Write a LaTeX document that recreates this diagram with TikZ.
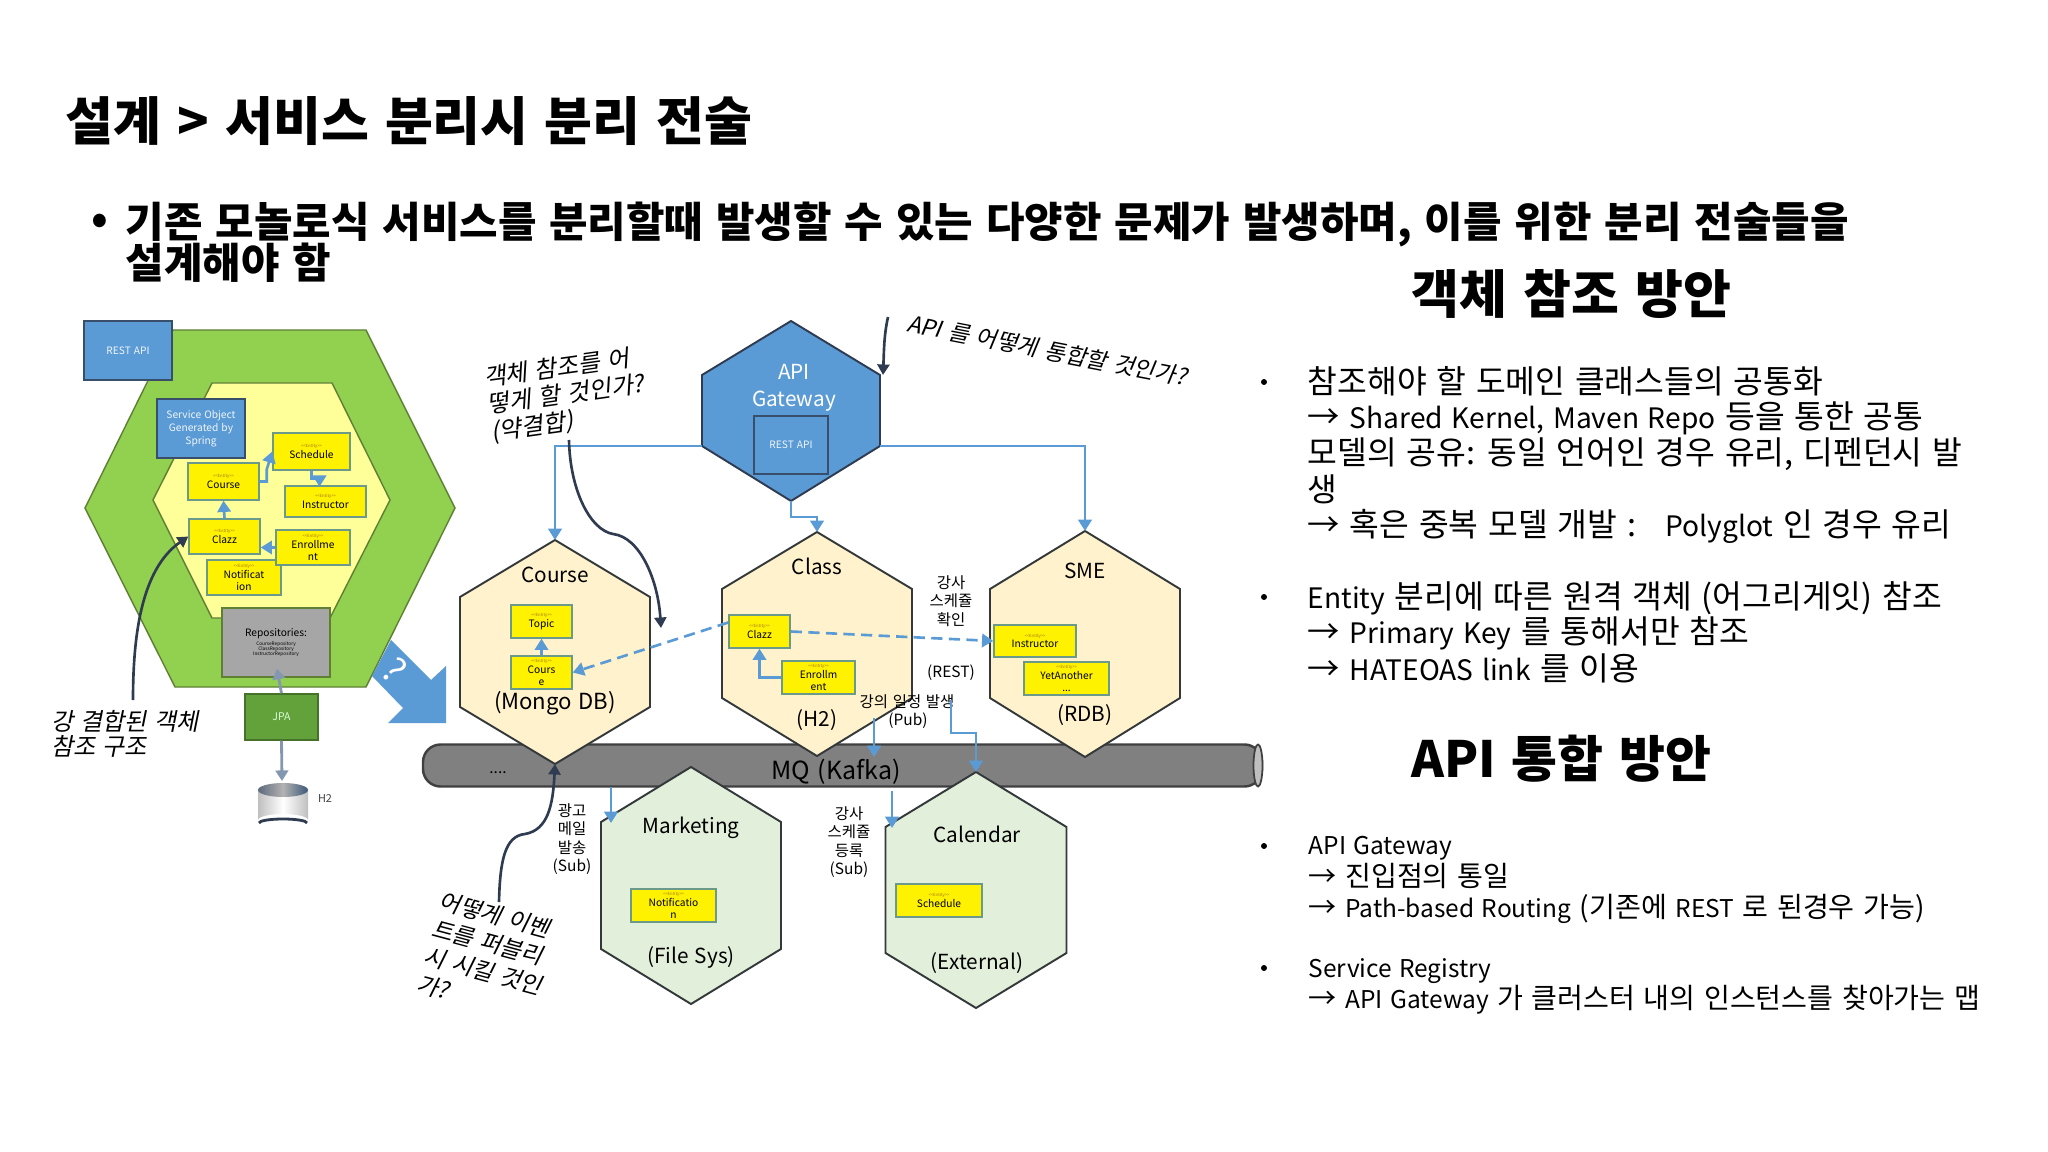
\documentclass[tikz,border=0pt]{standalone}
\usepackage{fontspec}
\setmainfont[WordSpace=1.35]{Noto Sans CJK KR}
\newfontfamily\slantfont[FakeSlant=0.2,WordSpace=1.35]{Noto Sans CJK KR}
\newfontfamily\latinpart[Scale=0.87,WordSpace=1.35]{Noto Sans CJK KR}
\usetikzlibrary{arrows.meta,calc}
\definecolor{flowblue}{HTML}{5B9BD5}
\definecolor{noteink}{HTML}{2F3B50}
\definecolor{hexline}{HTML}{33383A}
\definecolor{entline}{HTML}{6C9A8A}
\definecolor{enttag}{HTML}{A87A00}
\definecolor{jpagreen}{HTML}{63A23A}
\definecolor{slate}{HTML}{8497B0}
\definecolor{beige}{HTML}{FFF2CC}
\definecolor{sage}{HTML}{E2EFDA}
\definecolor{monogreen}{HTML}{92D050}
\definecolor{paleyellow}{HTML}{FFFF99}
\definecolor{monoline}{HTML}{5F7F35}

\begin{document}
\lineskiplimit=-5pt
\begin{tikzpicture}[
  x=0.01cm,y=-0.01cm,
  svchex/.style={fill=beige,draw=hexline,line width=0.55pt},
  subhex/.style={fill=sage,draw=hexline,line width=0.55pt},
  gatehex/.style={fill=flowblue,draw=noteink,line width=0.55pt},
  entity/.style={fill=yellow,draw=entline,line width=0.4pt,inner sep=0pt,align=center,
                 font=\fontsize{2.9}{3.6}\selectfont},
  bluebox/.style={fill=flowblue,draw=noteink!80!flowblue,line width=0.4pt,inner sep=0pt,align=center,
                  text=white!90!flowblue,font=\fontsize{2.9}{3.7}\selectfont},
  flow/.style={draw=flowblue,line width=0.75pt,-{Triangle[length=3.2pt,width=3.8pt]}},
  dashflow/.style={flow,dash pattern=on 3.2pt off 1.8pt},
  note/.style={draw=noteink,line width=0.75pt,-{Triangle[length=3pt,width=3.4pt]}},
  notelab/.style={font=\slantfont\fontsize{6.8}{7.7}\selectfont,align=left},
  svclab/.style={font=\fontsize{5.9}{7.6}\selectfont,inner sep=0pt},
  small/.style={font=\fontsize{4.4}{5.2}\selectfont,inner sep=0pt,align=center},
  head/.style={font=\bfseries\fontsize{14.8}{17}\selectfont,anchor=west,inner sep=0pt},
  intro/.style={font=\bfseries\fontsize{11.9}{14}\selectfont,anchor=west,inner sep=0pt},
  line/.style={anchor=west,inner sep=0pt}
]

\useasboundingbox (0,0) rectangle (2048,1152);
\fill[white] (0,0) rectangle (2048,1152);

% ---- titles ----
\node[head] (title) at (65,121) {설계 > 서비스 분리시 분리 전술};
\node[intro] (bul) at (91,224) {•};
\node[intro] (intro1) at (125,224)
  {기존 모놀로식 서비스를 분리할때 발생할 수 있는 다양한 문제가 발생하며, 이를 위한 분리 전술들을};
\node[intro] (intro2) at (125,263) {설계해야 함};
\node[head] (refHead) at (1411,294) {객체 참조 방안};
\node[head,font=\bfseries\fontsize{14.2}{17}\selectfont] (apiHead) at (1411,759) {API 통합 방안};

% ---- right column ----
\foreach \ty/\ttext in {
  381/{참조해야 할 도메인 클래스들의 공통화},
  418/{→ {\latinpart Shared Kernel, Maven Repo} 등을 통한 공통},
  454/{모델의 공유: 동일 언어인 경우 유리, 디펜던시 발},
  489/{생},
  526/{→ 혹은 중복 모델 개발 :\ \ \ {\latinpart Polyglot} 인 경우 유리},
  598/{{\latinpart Entity} 분리에 따른 원격 객체 (어그리게잇) 참조},
  633/{→ {\latinpart Primary Key} 를 통해서만 참조},
  668/{→ {\latinpart HATEOAS link} 를 이용}}
  \node[line,font=\fontsize{9.2}{11}\selectfont] at (1307,\ty) {\ttext};
\foreach \ty/\ttext in {
  848/{\latinpart API Gateway},
  876/{→ 진입점의 통일},
  909/{→ {\latinpart Path-based Routing} (기존에 {\latinpart REST} 로 된경우 가능)},
  971/{\latinpart Service Registry},
  1000/{→ {\latinpart API Gateway} 가 클러스터 내의 인스턴스를 찾아가는 맵}}
  \node[line,font=\fontsize{8}{10}\selectfont] at (1308,\ty) {\ttext};
\foreach \ty in {382,597,846,968}
  \fill[black] (1264,\ty) circle (3);

% ---- left monolith ----
\draw[fill=monogreen,draw=monoline,line width=0.4pt]
  (173,330) -- (366,330) -- (455,508) -- (366,687) -- (175,687) -- (85,508) -- cycle;
\draw[fill=paleyellow,draw=monoline,line width=0.4pt]
  (212,383) -- (332,383) -- (390,500) -- (330,618) -- (212,618) -- (153,500) -- cycle;

\node[bluebox,minimum width=0.88cm,minimum height=0.59cm] (restLeft) at (128,350.5) {REST API};
\node[bluebox,minimum width=0.88cm,minimum height=0.59cm] (svcObject) at (201,428.5)
  {Service Object\\Generated by\\Spring};

% ---- entity boxes, all services ----
\foreach \ename/\ex/\ey/\ew/\eh/\etext in {
  entSchedule/311.5/451.5/0.77/0.37/{Schedule},
  entCourse/223.5/481.5/0.71/0.37/{Course},
  entInstructor/325.5/501.5/0.81/0.31/{Instructor},
  entClazz/224.5/536.5/0.71/0.35/{Clazz},
  entNotif/244/577.5/0.74/0.35/{Notificat\\ion},
  entEnroll/313/547.5/0.74/0.35/{Enrollme\\nt}}
  \node[entity,minimum width=\ew cm,minimum height=\eh cm] (\ename) at (\ex,\ey)
    {{\fontsize{1.2}{2}\selectfont\textcolor{enttag}{<{}<Entity>{}>}}\\[-0.6pt]\etext};

\node[fill=black!35,draw=monoline,line width=0.4pt,inner sep=0pt,minimum width=1.08cm,
  minimum height=0.69cm,align=center,font=\fontsize{2.9}{1.5}\selectfont] (repos) at (276,642.5)
  {Repositories:\\[1pt]\fontsize{1.35}{1.45}\selectfont CourseRepository\\
   \fontsize{1.35}{1.45}\selectfont ClassRepository\\
   \fontsize{1.35}{1.45}\selectfont InstructorRepository};
\node[fill=jpagreen,draw=jpagreen!70!black,line width=0.4pt,inner sep=0pt,minimum width=0.73cm,
  minimum height=0.46cm,text=green!15!white,font=\fontsize{3}{4}\selectfont] (jpa) at (281.5,717) {JPA};

% db cylinder
\shade[left color=black!25,right color=black!25,middle color=white]
  (258,790) -- (258,820) arc[start angle=180,end angle=360,x radius=25,y radius=6]
  -- (308,790) -- cycle;
\shade[left color=slate!70!black,right color=noteink!70!flowblue,middle color=black!30]
  (283,790) ellipse[x radius=25,y radius=7];
\draw[noteink,line width=0.8pt] (259,823) arc[start angle=180,end angle=360,x radius=24,y radius=4];
\coordinate (dbTop) at (282,781);
\node[font=\fontsize{3.1}{4}\selectfont,text=black!75,inner sep=0pt] (h2Lab) at (325,799) {H2};

\draw[draw=slate,line width=0.8pt,-{Triangle[length=3pt,width=3.6pt]}] (jpa.north) -- ($(repos.south)+(1,-9)$);
\draw[draw=slate,line width=0.8pt,-{Triangle[length=3pt,width=3.6pt]}] (jpa.south) -- (dbTop);

\draw[flow] (entCourse.east) -- ++(7,0) -- ++(0,-12) -- (entSchedule.west);
\draw[flow] (entSchedule.south) -- ++(0,8) -- ++(8,0) -- ++(0,8);
\draw[flow] (entClazz.north) -- (entCourse.south);
\draw[flow] (entEnroll.west) -- (entClazz.east |- entEnroll.west);

% big arrow
\fill[flowblue] (391,640) -- (431,680) -- (446,666) -- (446,723) -- (388,723) -- (403,708) -- (372,676) -- cycle;
\node[text=white,rotate=-45,font=\fontsize{10}{11}\selectfont,inner sep=0pt] (askMark) at (395,670) {?};

% ---- message queue ----
\draw[fill=black!50,draw=black!75,line width=0.7pt,rounded corners=5pt]
  (423,744.5) rectangle (1262,786.5);
\draw[fill=black!25,draw=black!75,line width=0.5pt] (1258,765.5) ellipse[x radius=4.5,y radius=21];
\node[svclab,font=\fontsize{7.1}{8}\selectfont] (mqLab) at (836,772) {MQ (Kafka)};
\node[small] (dots) at (498,773) {....};

% ---- service hexagons ----
\foreach \hname/\hstyle/\cx/\xr/\yt/\yu/\yl/\yb in {
  hexGate/gatehex/791/89/321/375/446/501,
  hexCourse/svchex/555/95/540/597/707/764,
  hexClass/svchex/817/95/532/589/698/756,
  hexSme/svchex/1085/95/531/589/698/757,
  hexMarket/subhex/691/90/767/822/949/1004,
  hexCal/subhex/976/90.5/772/827/953/1008}
{
  \coordinate (\hname-t) at (\cx,\yt);
  \coordinate (\hname-b) at (\cx,\yb);
  \coordinate (\hname-l) at (\cx-\xr,\yl);
  \coordinate (\hname-r) at (\cx+\xr,\yl);
  \draw[\hstyle] (\hname-t) -- (\cx+\xr,\yu) -- (\hname-r) -- (\hname-b) -- (\hname-l) -- (\cx-\xr,\yu) -- cycle;
}

\node[bluebox,minimum width=0.74cm,minimum height=0.58cm] (restGate) at (791,445) {REST API};
\node[svclab,text=white,align=center] (gateLab) at (794,388) {API\\Gateway};

\foreach \lname/\lx/\ly/\ltext in {
  labCourse/555/575/Course, labClass/817/566/Class, labH/817/720/(H2),
  labSme/1085/571/SME, labRdb/1085/715/(RDB),
  labMarket/691/828/Marketing, labFile/691/957/(File Sys),
  labCal/977/834/Calendar, labExt/977/963/(External)}
  \node[svclab] (\lname) at (\lx,\ly) {\ltext};
\node[svclab,font=\fontsize{6.3}{7.6}\selectfont] (labMongo) at (555,703) {(Mongo DB)};

\foreach \ename/\ex/\ey/\ew/\eh/\etext in {
  entTopic/541.5/621.5/0.61/0.33/{Topic},
  entCourseB/541.5/672.5/0.61/0.33/{Cours\\e},
  entClazzB/759.5/631.5/0.61/0.33/{Clazz},
  entEnrollB/818.5/677.5/0.73/0.33/{Enrollm\\ent},
  entInstrS/1035/641/0.82/0.32/{Instructor},
  entYet/1066.5/678.5/0.85/0.33/{YetAnother\\...},
  entNotifM/673.5/905.5/0.85/0.33/{Notificatio\\n},
  entSchedC/939/900.5/0.86/0.33/{Schedule}}
  \node[entity,minimum width=\ew cm,minimum height=\eh cm] (\ename) at (\ex,\ey)
    {{\fontsize{1.2}{2}\selectfont\textcolor{enttag}{<{}<Entity>{}>}}\\[-0.6pt]\etext};

% ---- gateway routes ----
\draw[flow] (hexGate-l) -| (hexCourse-t);
\draw[flow] (hexGate-r) -| (hexSme-t);
\draw[flow] (hexGate-b) -- ++(0,16) -| (hexClass-t);

\draw[flow] (entCourseB.north) -- (entTopic.south);
\draw[flow] (entEnrollB.west) -| (entClazzB.south);
\draw[dashflow] ($(entClazzB.west)+(0,-9)$) -- (entCourseB.east);
\draw[dashflow] (entClazzB.east) -- (entInstrS.west);

% ---- pub / sub ----
\node[small] (labCheck) at (951,601) {강사\\스케쥴\\확인};
\node[small] (labRest) at (951,673) {(REST)};
\node[small] (labPub) at (907,702) {강의 일정 발생};
\node[small] (labPubB) at (908,721) {(Pub)};
\node[small] (labMail) at (572,839) {광고\\메일\\발송\\(Sub)};
\node[small] (labReg) at (849,842) {강사\\스케쥴\\등록\\(Sub)};

\coordinate (pubFrom) at (874,718);
\coordinate (pubTo) at (874,757);
\coordinate (calFrom) at (951,700);
\coordinate (mailFrom) at (611,787);
\coordinate (mailTo) at (611,823);
\coordinate (regFrom) at (892,791);
\coordinate (regTo) at (892,828);
\draw[flow] (pubFrom) -- (pubTo);
\draw[flow] (calFrom) -- ++(0,33) -| (hexCal-t);
\draw[flow] (mailFrom) -- (mailTo);
\draw[flow] (regFrom) -- (regTo);

% ---- annotations ----
\node[notelab,font=\slantfont\fontsize{6.85}{7.2}\selectfont] (noteTight) at (125,734) {강 결합된 객체\\참조 구조};
\node[notelab,rotate=8] (noteLoose) at (566,395) {객체 참조를 어\\떻게 할 것인가?\\(약결합)};
\node[notelab,rotate=-11,font=\slantfont\fontsize{6.5}{8}\selectfont] (noteApi) at (1047,350) {API 를 어떻게 통합할 것인가?};
\node[notelab,rotate=-15,font=\slantfont\fontsize{6.6}{8.1}\selectfont] (noteEvent) at (487,957)
  {어떻게 이벤\\트를 퍼블리\\시 시킬 것인\\가?};

\coordinate (tightFrom) at (133,700);
\coordinate (looseFrom) at (569,440);
\coordinate (looseMid) at (613,534);
\coordinate (looseTo) at (661,628);
\coordinate (apiFrom) at (888,317);
\coordinate (apiTo) at (883,375);
\coordinate (eventFrom) at (499,902);
\coordinate (eventMid) at (525,834);
\draw[note] (tightFrom) .. controls (133,640) and (140,570) .. (entClazz.west);
\draw[note] (looseFrom) .. controls (570,490) and (590,530) .. (looseMid)
  .. controls (640,537) and (658,580) .. (looseTo);
\draw[note] (apiFrom) .. controls (884,335) and (884,350) .. (apiTo);
\draw[note] (eventFrom) .. controls (500,860) and (505,836) .. (eventMid)
  .. controls (548,830) and (553,805) .. (hexCourse-b);

\end{tikzpicture}
\end{document}
